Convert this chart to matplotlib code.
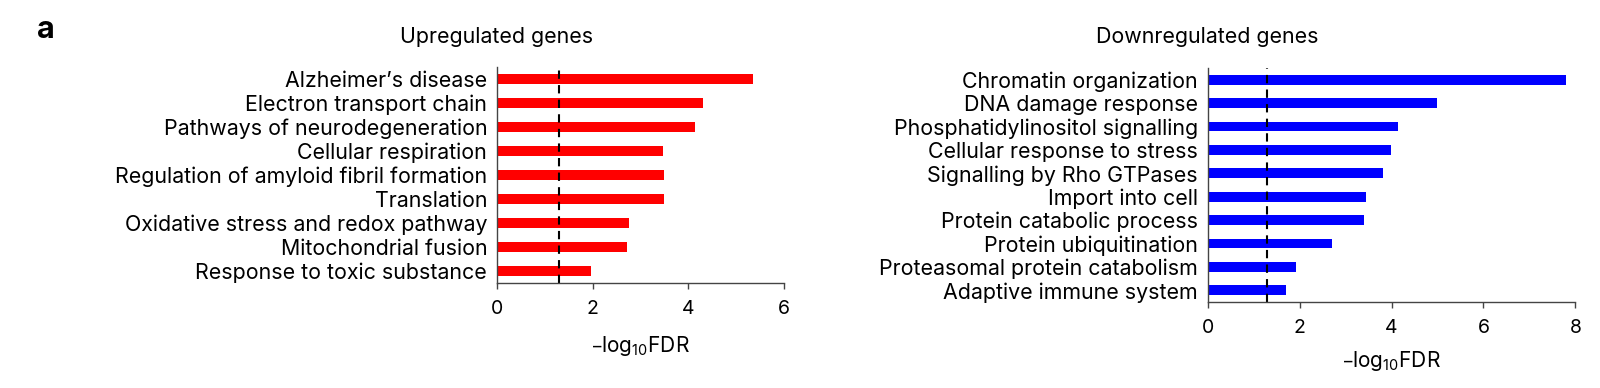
import matplotlib
matplotlib.use('Agg')
import matplotlib.pyplot as plt

plt.rcParams['font.family'] = ['Inter', 'DejaVu Sans']
plt.rcParams['mathtext.default'] = 'regular'

up_terms = ['Alzheimer\u2019s disease', 'Electron transport chain',
            'Pathways of neurodegeneration', 'Cellular respiration',
            'Regulation of amyloid fibril formation', 'Translation',
            'Oxidative stress and redox pathway', 'Mitochondrial fusion',
            'Response to toxic substance']
up_vals = [5.36, 4.31, 4.14, 3.47, 3.49, 3.49, 2.77, 2.72, 1.97]

down_terms = ['Chromatin organization', 'DNA damage response',
              'Phosphatidylinositol signalling', 'Cellular response to stress',
              'Signalling by Rho GTPases', 'Import into cell',
              'Protein catabolic process', 'Protein ubiquitination',
              'Proteasomal protein catabolism', 'Adaptive immune system']
down_vals = [7.80, 5.00, 4.14, 3.98, 3.81, 3.45, 3.40, 2.71, 1.93, 1.70]

cutoff = 1.3  # -log10(0.05)

fig = plt.figure(figsize=(16, 3.88), dpi=100)
ax1 = fig.add_axes([0.3106, 0.2706, 0.1794, 0.5567])
ax2 = fig.add_axes([0.7548, 0.2216, 0.2298, 0.6031])

def panel(ax, terms, vals, color, xmax, height, lpad):
    ax.barh(range(len(terms)), vals, height=height, color=color)
    ax.axvline(cutoff, color='black', ls=(0, (4, 3)), lw=1.5)
    ax.set_ylim(len(terms) - 0.5, -0.5)
    ax.set_xlim(0, xmax)
    ax.set_xticks(range(0, xmax + 1, 2))
    ax.set_yticks(range(len(terms)))
    ax.set_yticklabels(terms, fontsize=15.4)
    ax.tick_params(axis='y', length=0, pad=7)
    ax.tick_params(axis='x', length=4, width=1, labelsize=14, pad=8, color='#444444')
    for s in ['top', 'right']:
        ax.spines[s].set_visible(False)
    for s in ['left', 'bottom']:
        ax.spines[s].set_color('#444444')
        ax.spines[s].set_linewidth(1)
    ax.set_xlabel('\u2013log$_{10}$FDR', fontsize=15, labelpad=lpad)

panel(ax1, up_terms, up_vals, '#ff0000', 6, 0.38, 12)
panel(ax2, down_terms, down_vals, '#0000ff', 8, 0.42, 9)

fig.text(497 / 1600, 1 - 37 / 388, 'Upregulated genes', ha='center', va='center', fontsize=15.4)
fig.text(1207.7 / 1600, 1 - 37 / 388, 'Downregulated genes', ha='center', va='center', fontsize=15.4)
fig.text(37 / 1600, 1 - 30 / 388, 'a', ha='left', va='center', fontsize=22, fontweight='bold')

fig.savefig('out.png', dpi=100)
